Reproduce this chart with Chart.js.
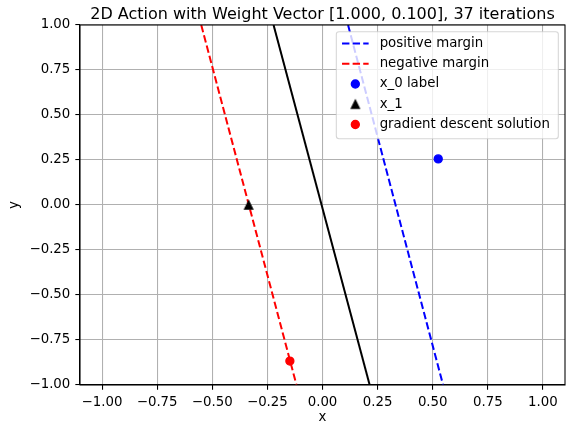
<!DOCTYPE html>
<html><head><meta charset="utf-8">
<script src="https://cdn.jsdelivr.net/npm/chart.js@4/dist/chart.umd.min.js"></script>
<style>html,body{margin:0;padding:0;background:#fff}canvas{display:block}</style>
</head><body>
<canvas id="c" width="566" height="427"></canvas>
<script>
// ---- data ----
const titleText = '2D Action with Weight Vector [1.000, 0.100], 37 iterations';
const xAxisLabel = 'x';
const yAxisLabel = 'y';
const xTicks = [-1, -0.75, -0.5, -0.25, 0, 0.25, 0.5, 0.75, 1];
const yTicks = [-1, -0.75, -0.5, -0.25, 0, 0.25, 0.5, 0.75, 1];
const xRange = [-1.1, 1.1];
const yRange = [-1, 1];

const boundaryX = [-0.222, 0.214];
const boundaryY = [1, -1];
const positiveMarginX = [0.116, 0.547];
const positiveMarginY = [1, -1];
const negativeMarginX = [-0.55, -0.118];
const negativeMarginY = [1, -1];
const x0LabelPoint = [0.525, 0.256];
const x1Point = [-0.335, 0];
const gdSolutionPoint = [-0.148, -0.867];

const legendLabels = ['positive margin', 'negative margin', 'x_0 label', 'x_1', 'gradient descent solution'];

// ---- helpers ----
const FONT = '"DejaVu Sans", "Liberation Sans", sans-serif';
const toXY = (xs, ys) => xs.map((x, i) => ({x: x, y: ys[i]}));
const fmt = v => (Math.abs(v) < 1e-9 ? '0.00' : (v < 0 ? '\u2212' : '') + Math.abs(v).toFixed(2));

// matplotlib-like '^' marker (bounding box centred on the point)
function makeTriangle(color) {
  const c = document.createElement('canvas');
  c.width = 14; c.height = 14;
  const g = c.getContext('2d');
  g.fillStyle = color; g.strokeStyle = color; g.lineWidth = 1.33; g.lineJoin = 'miter';
  g.beginPath();
  g.moveTo(7, 3); g.lineTo(3, 11); g.lineTo(11, 11); g.closePath();
  g.fill(); g.stroke();
  return c;
}
const triangleMarker = makeTriangle('#000000');

const lineDash = [7.4, 3.2];

const datasets = [
  {label: 'gradient descent solution', data: [{x: gdSolutionPoint[0], y: gdSolutionPoint[1]}],
   pointStyle: 'circle', pointRadius: 4, pointHoverRadius: 4, pointBorderWidth: 1.33,
   backgroundColor: '#ff0000', borderColor: '#ff0000', showLine: false, order: 1},
  {label: 'x_1', data: [{x: x1Point[0], y: x1Point[1]}],
   pointStyle: triangleMarker, pointRadius: 5, backgroundColor: '#000', borderColor: '#000', showLine: false, order: 1},
  {label: 'x_0 label', data: [{x: x0LabelPoint[0], y: x0LabelPoint[1]}],
   pointStyle: 'circle', pointRadius: 4, pointHoverRadius: 4, pointBorderWidth: 1.33,
   backgroundColor: '#0000ff', borderColor: '#0000ff', showLine: false, order: 1},
  {label: 'boundary', data: toXY(boundaryX, boundaryY), showLine: true, pointRadius: 0,
   borderColor: '#000000', borderWidth: 2, order: 2},
  {label: 'negative margin', data: toXY(negativeMarginX, negativeMarginY), showLine: true, pointRadius: 0,
   borderColor: '#ff0000', borderWidth: 2, borderDash: lineDash, order: 3},
  {label: 'positive margin', data: toXY(positiveMarginX, positiveMarginY), showLine: true, pointRadius: 0,
   borderColor: '#0000ff', borderWidth: 2, borderDash: lineDash, order: 4}
];

const decor = {
  id: 'decor',
  afterDraw(chart) {
    const {ctx, chartArea: a} = chart;
    ctx.save();
    // top/right spines (full frame)
    ctx.strokeStyle = '#000'; ctx.lineWidth = 1.07; ctx.setLineDash([]);
    ctx.strokeRect(a.left, a.top, a.right - a.left, a.bottom - a.top);
    // title centred over the axes
    ctx.fillStyle = '#000'; ctx.font = '16px ' + FONT;
    ctx.textAlign = 'center'; ctx.textBaseline = 'alphabetic';
    ctx.fillText(titleText, (a.left + a.right) / 2, a.top - 6);
    // legend
    const fs = 13.33;
    const bw = 222, bh = 107;
    const bx = a.right - 6.67 - bw, by = a.top + 6.67;
    const r = 2.7;
    ctx.beginPath();
    ctx.moveTo(bx + r, by); ctx.lineTo(bx + bw - r, by); ctx.arcTo(bx + bw, by, bx + bw, by + r, r);
    ctx.lineTo(bx + bw, by + bh - r); ctx.arcTo(bx + bw, by + bh, bx + bw - r, by + bh, r);
    ctx.lineTo(bx + r, by + bh); ctx.arcTo(bx, by + bh, bx, by + bh - r, r);
    ctx.lineTo(bx, by + r); ctx.arcTo(bx, by, bx + r, by, r); ctx.closePath();
    ctx.fillStyle = 'rgba(255,255,255,0.8)'; ctx.fill();
    ctx.strokeStyle = 'rgba(204,204,204,0.8)'; ctx.lineWidth = 1.07; ctx.stroke();
    ctx.font = fs + 'px ' + FONT; ctx.textAlign = 'left'; ctx.textBaseline = 'middle';
    legendLabels.forEach((lab, i) => {
      const ds = chart.data.datasets.find(d => d.label === lab);
      const cy = by + 11.8 + i * 20.25;
      const hx0 = bx + 5.7, hx1 = bx + 32.3, hc = (hx0 + hx1) / 2;
      if (ds.showLine) {
        ctx.save();
        ctx.strokeStyle = ds.borderColor; ctx.lineWidth = ds.borderWidth;
        ctx.setLineDash(ds.borderDash || []);
        ctx.beginPath(); ctx.moveTo(hx0, cy); ctx.lineTo(hx1, cy); ctx.stroke();
        ctx.restore();
      } else {
        ctx.save();
        ctx.fillStyle = ds.backgroundColor; ctx.strokeStyle = ds.borderColor;
        ctx.lineWidth = ds.pointBorderWidth || 0;
        Chart.helpers.drawPoint(ctx, {pointStyle: ds.pointStyle, radius: ds.pointRadius,
          borderWidth: ds.pointBorderWidth || 0, rotation: 0}, hc, cy);
        ctx.restore();
      }
      ctx.fillStyle = '#000';
      ctx.fillText(lab, bx + 43.3, cy);
    });
    ctx.restore();
  }
};

const axisCommon = (ticks, range, label, fitKey, fitVal, titlePad) => ({
  type: 'linear',
  min: range[0], max: range[1],
  afterBuildTicks: s => { s.ticks = ticks.map(v => ({value: v})); },
  afterFit: s => {
    s[fitKey] = fitVal;
    s.paddingLeft = 0; s.paddingRight = 0; s.paddingTop = 0; s.paddingBottom = 0;
  },
  ticks: {autoSkip: false, maxRotation: 0, minRotation: 0, padding: 5, color: '#000',
          font: {family: FONT, size: 13.33}, callback: v => fmt(v)},
  grid: {color: '#b0b0b0', lineWidth: 1.07, tickLength: 4.67, tickColor: '#000', tickWidth: 1.07, drawTicks: true},
  border: {display: true, color: '#000', width: 1.07},
  title: {display: true, text: label, color: '#000', font: {family: FONT, size: 13.33, lineHeight: 1.2}, padding: titlePad}
});

new Chart(document.getElementById('c'), {
  type: 'scatter',
  data: {datasets: datasets},
  plugins: [decor],
  options: {
    responsive: false, animation: false, devicePixelRatio: 1,
    layout: {autoPadding: false, padding: {top: 25, right: 1, left: 0, bottom: 0}},
    plugins: {legend: {display: false}, title: {display: false}, tooltip: {enabled: false}},
    scales: {
      x: axisCommon(xTicks, xRange, xAxisLabel, 'height', 42, {top: 0, bottom: 1}),
      y: axisCommon(yTicks, yRange, yAxisLabel, 'width', 80, {top: 7, bottom: 0})
    }
  }
});
</script>
</body></html>
